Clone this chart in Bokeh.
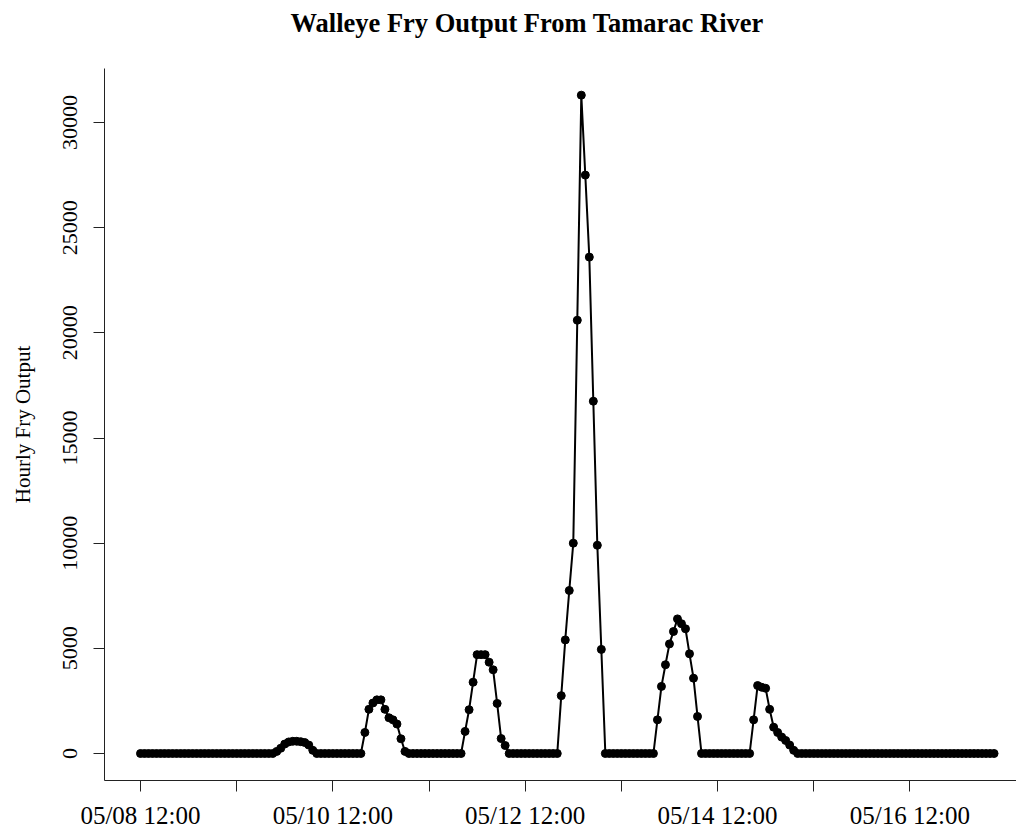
from datetime import datetime, timedelta

from bokeh.plotting import figure
from bokeh.models import Range1d, FixedTicker, DatetimeTickFormatter, ColumnDataSource, Title
from bokeh.embed import file_html
from bokeh.resources import INLINE

# ---------------- data (hourly, starting 05/08 12:00) ----------------
START = datetime(2013, 5, 8, 12, 0)

day0 = [0, 0, 0, 0, 0, 0, 0, 0, 0, 0, 0, 0, 0, 0, 0, 0, 0, 0, 0, 0, 0, 0, 0, 0]
day1 = [0, 0, 0, 0, 0, 0, 0, 0, 0, 0, 100, 250, 450, 550, 580, 580, 560, 520, 400, 150, 0, 0, 0, 0]
day2 = [0, 0, 0, 0, 0, 0, 0, 0, 1000, 2100, 2400, 2550, 2550, 2100, 1700, 1600, 1400, 700, 100, 0, 0, 0, 0, 0]
day3 = [0, 0, 0, 0, 0, 0, 0, 0, 0, 1050, 2080, 3390, 4700, 4700, 4700, 4340, 3980, 2380, 710, 380, 0, 0, 0, 0]
day4 = [0, 0, 0, 0, 0, 0, 0, 0, 0, 2750, 5400, 7750, 10000, 20600, 31300, 27500, 23600, 16750, 9900, 4950, 0, 0, 0, 0]
day5 = [0, 0, 0, 0, 0, 0, 0, 0, 0, 1600, 3190, 4220, 5210, 5800, 6400, 6170, 5930, 4740, 3580, 1760, 0, 0, 0, 0]
day6 = [0, 0, 0, 0, 0, 0, 0, 0, 0, 1600, 3230, 3150, 3100, 2100, 1250, 1000, 780, 620, 400, 150, 0, 0, 0, 0]
day7 = [0, 0, 0, 0, 0, 0, 0, 0, 0, 0, 0, 0, 0, 0, 0, 0, 0, 0, 0, 0, 0, 0, 0, 0]
day8 = [0, 0, 0, 0, 0, 0, 0, 0, 0, 0, 0, 0, 0, 0, 0, 0, 0, 0, 0, 0, 0, 0]

fry = day0 + day1 + day2 + day3 + day4 + day5 + day6 + day7 + day8
times = [START + timedelta(hours=i) for i in range(len(fry))]

y_ticks = [0, 5000, 10000, 15000, 20000, 25000, 30000]
x_label_days = [0, 2, 4, 6, 8]      # labelled ticks (days after start)
x_minor_days = [1, 3, 5, 7]         # unlabelled ticks

TITLE = "Walleye Fry Output From Tamarac River"
Y_LABEL = "Hourly Fry Output"

# ---------------- figure ----------------
FONT = "Liberation Serif"

def ms(dt):
    return (dt - datetime(1970, 1, 1)).total_seconds() * 1000.0

x_start = START + timedelta(hours=-8.98)
x_end = START + timedelta(hours=218.6)

p = figure(
    width=1016, height=832,
    x_axis_type="datetime",
    x_range=Range1d(x_start, x_end),
    y_range=Range1d(-1284, 32568),
    output_backend="svg",
    toolbar_location=None,
    min_border_left=104, min_border_right=0,
    min_border_top=68, min_border_bottom=52,
)
p.outline_line_color = None
p.background_fill_color = "white"
p.border_fill_color = "white"
p.xgrid.visible = False
p.ygrid.visible = False

# spacer between the frame and the title, then the title itself
spacer = Title(text=" ", text_font=FONT, text_font_size="26px", standoff=0)
p.add_layout(spacer, "above")
main_title = Title(
    text=TITLE, text_font=FONT, text_font_style="bold", text_font_size="26.5px",
    text_color="black", align="left", offset=186, standoff=0,
)
p.add_layout(main_title, "above")

# x axis
xa = p.xaxis[0]
xa.ticker = FixedTicker(
    ticks=[ms(START + timedelta(days=d)) for d in x_label_days],
    minor_ticks=[ms(START + timedelta(days=d)) for d in x_minor_days],
)
fmt = "%m/%d %H:%M"
xa.formatter = DatetimeTickFormatter(
    microseconds=fmt, milliseconds=fmt, seconds=fmt, minsec=fmt, minutes=fmt,
    hourmin=fmt, hours=fmt, days=fmt, months=fmt, years=fmt,
    strip_leading_zeros=False,
)
xa.major_tick_out = 11
xa.major_tick_in = 0
xa.minor_tick_out = 11
xa.minor_tick_in = 0
xa.major_tick_line_color = "#222222"
xa.minor_tick_line_color = "#222222"
xa.axis_line_color = "#222222"
xa.major_label_text_font = FONT
xa.major_label_text_font_size = "25px"
xa.major_label_text_color = "black"
xa.major_label_standoff = 10

# y axis
ya = p.yaxis[0]
ya.ticker = FixedTicker(ticks=y_ticks)
ya.major_tick_out = 11
ya.major_tick_in = 0
ya.minor_tick_line_color = None
ya.major_tick_line_color = "#222222"
ya.axis_line_color = "#222222"
ya.major_label_orientation = "vertical"
ya.major_label_text_font = FONT
ya.major_label_text_font_size = "22px"
ya.major_label_text_color = "black"
ya.major_label_standoff = 16
ya.axis_label = Y_LABEL
ya.axis_label_text_font = FONT
ya.axis_label_text_font_size = "21px"
ya.axis_label_text_font_style = "normal"
ya.axis_label_text_color = "black"
ya.axis_label_standoff = 26

src = ColumnDataSource(dict(t=times, y=fry))
p.line("t", "y", source=src, line_color="black", line_width=2)
p.scatter("t", "y", source=src, marker="circle", size=8, fill_color="black", line_color="black")

open("out.html", "w").write(file_html(p, INLINE))
